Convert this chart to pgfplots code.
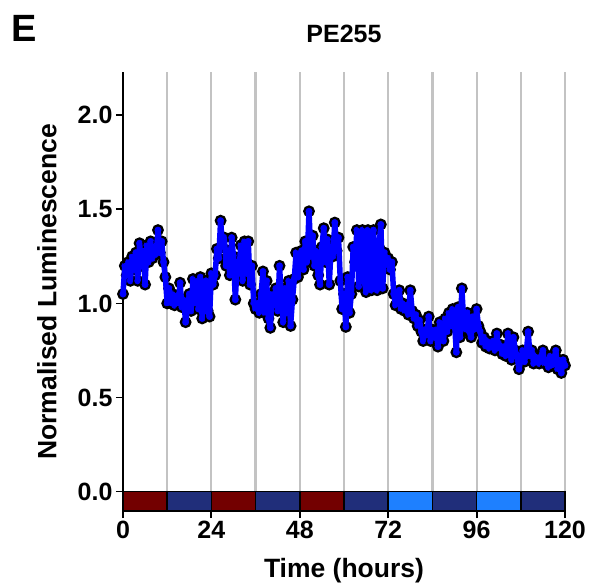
\documentclass[border=0pt]{standalone}
\usepackage{pgfplots}
\pgfplotsset{compat=1.18}
\usepackage{pgfplotstable}
\usepackage{fontspec}
\setmainfont{Liberation Sans}
\definecolor{darkred}{RGB}{115,0,0}
\definecolor{navyband}{RGB}{32,46,122}
\definecolor{lightband}{RGB}{30,128,255}
\definecolor{gridgrey}{RGB}{195,195,195}
\pgfplotstableread{
t v
0 1.05
0.5 1.20
1 1.15
1.5 1.22
2 1.12
2.5 1.25
3 1.18
3.5 1.27
4 1.12
4.5 1.32
5 1.20
5.5 1.28
6 1.10
6.5 1.31
7 1.22
7.5 1.33
8 1.24
8.5 1.30
9 1.26
9.5 1.39
10 1.27
10.5 1.33
11 1.22
11.5 1.14
12 1.00
12.5 1.08
13 1.00
13.5 1.05
14 0.99
14.5 1.04
15 1.00
15.5 1.11
16 0.98
16.5 1.02
17 0.90
17.5 0.97
18 1.05
18.5 0.96
19 1.13
19.5 1.00
20 1.12
20.5 0.97
21 1.14
21.5 0.92
22 1.06
22.5 1.12
23 0.96
23.5 0.93
24 1.16
24.5 1.10
25 1.15
25.5 1.29
26 1.24
26.5 1.44
27 1.30
27.5 1.35
28 1.20
28.5 1.28
29 1.15
29.5 1.35
30 1.25
30.5 1.02
31 1.22
31.5 1.18
32 1.31
32.5 1.12
33 1.33
33.5 1.16
34 1.33
34.5 1.10
35 1.20
35.5 1.00
36 0.97
36.5 1.00
37 0.95
37.5 1.05
38 1.17
38.5 0.95
39 1.12
39.5 0.92
40 0.87
40.5 1.05
41 0.99
41.5 1.08
42 0.96
42.5 1.20
43 1.02
43.5 0.90
44 1.08
44.5 0.95
45 1.12
45.5 0.88
46 1.02
46.5 1.13
47 1.27
47.5 1.14
48 1.25
48.5 1.28
49 1.18
49.5 1.33
50 1.22
50.5 1.49
51 1.25
51.5 1.36
52 1.20
52.5 1.28
53 1.15
53.5 1.10
54 1.30
54.5 1.40
55 1.22
55.5 1.34
56 1.10
56.5 1.30
57 1.25
57.5 1.43
58 1.28
58.5 1.35
59 1.12
59.5 0.97
60 1.05
60.5 0.875
61 1.14
61.5 0.95
62 1.05
62.5 1.30
63 1.22
63.5 1.39
64 1.09
64.5 1.30
65 1.39
65.5 1.12
66 1.06
66.5 1.39
67 1.15
67.5 1.07
68 1.39
68.5 1.20
69 1.07
69.5 1.30
70 1.42
70.5 1.08
71 1.27
71.5 1.22
72 1.24
72.5 1.18
73 1.22
73.5 1.05
74 0.99
74.5 1.03
75 1.07
75.5 0.97
76 1.00
76.5 0.96
77 0.99
77.5 0.94
78 1.07
78.5 0.96
79 0.92
79.5 0.94
80 0.88
80.5 0.91
81 0.85
81.5 0.80
82 0.86
82.5 0.83
83 0.93
83.5 0.80
84 0.86
84.5 0.82
85 0.86
85.5 0.77
86 0.90
86.5 0.84
87 0.80
87.5 0.92
88 0.85
88.5 0.95
89 0.88
89.5 0.97
90 0.90
90.5 0.74
91 0.98
91.5 0.82
92 1.08
92.5 0.90
93 0.86
93.5 0.95
94 0.85
94.5 0.82
95 0.93
95.5 0.86
96 0.97
96.5 0.88
97 0.85
97.5 0.79
98 0.82
98.5 0.77
99 0.80
99.5 0.76
100 0.78
100.5 0.80
101 0.75
101.5 0.84
102 0.76
102.5 0.78
103 0.73
103.5 0.77
104 0.72
104.5 0.84
105 0.74
105.5 0.70
106 0.82
106.5 0.75
107 0.72
107.5 0.65
108 0.70
108.5 0.75
109 0.69
109.5 0.74
110 0.85
110.5 0.72
111 0.75
111.5 0.68
112 0.72
112.5 0.70
113 0.68
113.5 0.72
114 0.75
114.5 0.68
115 0.70
115.5 0.66
116 0.72
116.5 0.67
117 0.70
117.5 0.75
118 0.65
118.5 0.70
119 0.63
119.5 0.70
120 0.67
}\lumdata
\pgfplotsset{
  commonframe/.style={
    at={(0pt,0pt)}, anchor=south west, scale only axis,
    width=442pt, height=438.5pt,
    xmin=0, xmax=120, ymin=-0.104, ymax=2.228,
    clip=false,
  }
}
\begin{document}
\begin{tikzpicture}
\path[use as bounding box] (-123pt,-76pt) rectangle (466pt,511pt);
\begin{axis}[
  commonframe,
  axis x line*=bottom, axis y line*=left,
  axis line style={line width=1.8pt, black},
  xtick={0,24,...,120}, ytick={0,0.5,...,2.0},
  minor xtick={12,36,60,84,108},
  xmajorgrids, xminorgrids,
  major grid style={gridgrey, line width=2.2pt},
  minor grid style={gridgrey, line width=2.2pt},
  minor tick length=0pt,
  tick align=outside, major tick length=7pt,
  tick style={line width=1.8pt, black},
  /pgf/number format/assume math mode=true,
  ticklabel style={font=\bfseries\fontsize{25}{25}\selectfont},
  yticklabel style={/pgf/number format/fixed, /pgf/number format/precision=1, /pgf/number format/fixed zerofill},
  xlabel={Time (hours)}, ylabel={Normalised Luminescence},
  xlabel style={font=\bfseries\fontsize{26.5}{26.5}\selectfont, at={(axis description cs:0.5,-0.137)}, anchor=center},
  ylabel style={font=\bfseries\fontsize{26.5}{26.5}\selectfont, at={(axis description cs:-0.172,0.5)}, anchor=center},
  title={PE255},
  title style={font=\bfseries\fontsize{25}{25}\selectfont, at={(axis description cs:0.5,1.075)}, anchor=center},
]
\addplot[fill=darkred, draw=black, line width=1.6pt] coordinates {(0,0) (12,0) (12,-0.104) (0,-0.104)} -- cycle;
\addplot[fill=navyband, draw=black, line width=1.6pt] coordinates {(12,0) (24,0) (24,-0.104) (12,-0.104)} -- cycle;
\addplot[fill=darkred, draw=black, line width=1.6pt] coordinates {(24,0) (36,0) (36,-0.104) (24,-0.104)} -- cycle;
\addplot[fill=navyband, draw=black, line width=1.6pt] coordinates {(36,0) (48,0) (48,-0.104) (36,-0.104)} -- cycle;
\addplot[fill=darkred, draw=black, line width=1.6pt] coordinates {(48,0) (60,0) (60,-0.104) (48,-0.104)} -- cycle;
\addplot[fill=navyband, draw=black, line width=1.6pt] coordinates {(60,0) (72,0) (72,-0.104) (60,-0.104)} -- cycle;
\addplot[fill=lightband, draw=black, line width=1.6pt] coordinates {(72,0) (84,0) (84,-0.104) (72,-0.104)} -- cycle;
\addplot[fill=navyband, draw=black, line width=1.6pt] coordinates {(84,0) (96,0) (96,-0.104) (84,-0.104)} -- cycle;
\addplot[fill=lightband, draw=black, line width=1.6pt] coordinates {(96,0) (108,0) (108,-0.104) (96,-0.104)} -- cycle;
\addplot[fill=navyband, draw=black, line width=1.6pt] coordinates {(108,0) (120,0) (120,-0.104) (108,-0.104)} -- cycle;
\addplot[only marks, mark=*, mark size=4.8pt, mark options={fill=blue, draw=black, line width=2.2pt}] table[x=t, y=v] {\lumdata};
\end{axis}
\begin{axis}[commonframe, hide axis]
\addplot[blue, line width=5.5pt, no marks, line join=round] table[x=t, y=v] {\lumdata};
\end{axis}
\node[anchor=north west, inner sep=0pt, font=\bfseries\fontsize{38}{38}\selectfont] at (-112pt,496pt) {E};
\end{tikzpicture}
\end{document}
